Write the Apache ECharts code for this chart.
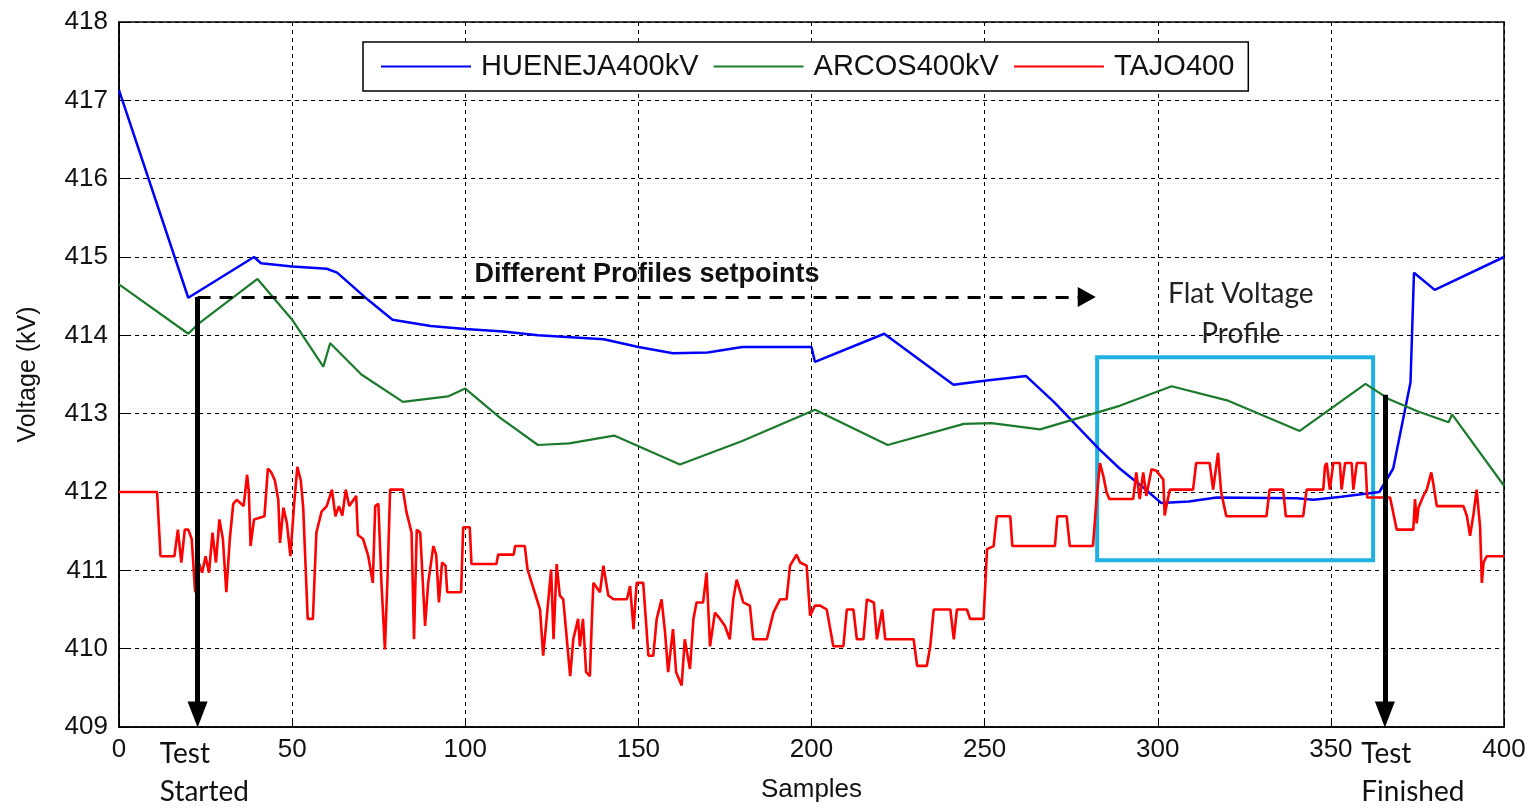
<!DOCTYPE html>
<html>
<head>
<meta charset="utf-8">
<script src="https://cdn.jsdelivr.net/npm/echarts@6/dist/echarts.min.js"></script>
<style>
  html, body { margin: 0; padding: 0; background: #fff; }
  #chart { width: 1537px; height: 808px; }
</style>
</head>
<body>
<div id="chart"></div>
<script>
// [sample, kV] pairs
var hueneja = [[0,417.13],[20,414.48],[39,415.0],[41,414.92],[50,414.88],[60,414.85],[63,414.8],[72,414.45],[79,414.2],
  [90,414.12],[100,414.08],[111,414.05],[121,414.0],[140,413.95],[150,413.85],[160,413.77],[170,413.78],[180,413.85],
  [200,413.85],[201,413.66],[221,414.02],[241,413.37],[250,413.42],[262,413.48],[270,413.15],[283,412.55],[289,412.3],
  [296,412.05],[301,411.86],[309,411.88],[317,411.93],[340,411.92],[345,411.9],[353,411.94],[364,412.0],[368,412.3],
  [373,413.4],[374,414.8],[380,414.58],[400,415.0]]

var arcos = [[0,414.65],[20,414.02],[23,414.15],[40,414.72],[50,414.2],[59,413.6],[61,413.9],[70,413.5],[82,413.15],
  [95,413.22],[100,413.32],[110,412.95],[121,412.6],[130,412.62],[143,412.72],[162,412.35],[180,412.65],[201,413.05],
  [222,412.6],[244,412.87],[252,412.88],[266,412.8],[289,413.1],[304,413.35],[320,413.17],[341,412.78],[360,413.38],
  [367,413.18],[375,413.03],[384,412.89],[385,412.99],[400,412.08]]

var tajo = [[0,412.0],[11,412.0],[12,411.18],[16,411.18],[17,411.52],[18,411.1],[19,411.52],[20,411.52],[21,411.4],
  [22,410.72],[23,411.1],[24,410.97],[25,411.18],[26,410.97],[27,411.48],[28,411.1],[29,411.65],[30,411.4],[31,410.72],
  [32,411.4],[33,411.85],[34,411.9],[36,411.82],[37,412.22],[37.5,412.0],[38,411.31],[39,411.65],[42,411.69],[43,412.3],
  [44,412.25],[45,412.15],[46,411.9],[46.5,411.35],[47.5,411.8],[48.5,411.6],[49.5,411.18],[50.5,411.8],[51.5,412.32],
  [52.5,412.15],[53.2,411.8],[54.5,410.38],[56,410.38],[57,411.48],[58.5,411.75],[60,411.82],[61.5,412.03],[62.5,411.69],
  [63.5,411.82],[64.5,411.7],[65.5,412.03],[66.5,411.82],[68.5,411.95],[69,411.45],[70.5,411.4],[72,411.18],[73.3,410.84],
  [74,411.82],[74.9,411.85],[75.8,410.84],[76.8,409.99],[77.6,410.97],[78.3,412.03],[82,412.03],[83,411.75],[84.5,411.48],
  [85.2,410.12],[86,411.52],[87,411.48],[88.4,410.29],[89.3,410.84],[90.8,411.31],[91.6,411.2],[92.4,410.59],[93.3,411.1],
  [94.3,411.06],[94.8,410.72],[98.8,410.72],[99.4,411.55],[101.3,411.55],[101.8,411.08],[109,411.08],[109.5,411.2],
  [114,411.2],[114.4,411.31],[117.2,411.31],[118,411.01],[121.6,410.5],[122.5,409.91],[123.5,410.38],[124.8,411.01],
  [125.5,410.12],[126.4,411.08],[127.3,410.68],[128.3,410.63],[130.3,409.65],[131.2,410.12],[132.6,410.38],[133.1,410.03],
  [134,410.38],[134.9,409.7],[136,409.65],[136.5,410.29],[137,410.84],[138.9,410.72],[139.9,411.06],[141.3,410.68],
  [142.8,410.63],[146.7,410.63],[147.6,410.8],[148.6,410.25],[149.5,410.84],[151.4,410.84],[152.9,409.91],[154.3,409.91],
  [155.3,410.38],[156.7,410.63],[157.7,410.21],[158.6,409.7],[160,410.25],[160.9,409.7],[162.5,409.53],[163.4,410.12],
  [164.9,409.74],[165.9,410.38],[166.8,410.59],[168.7,410.59],[169.7,410.97],[170.7,410.03],[172.1,410.46],[173.6,410.38],
  [175,410.29],[176.4,410.12],[177.4,410.63],[178.4,410.88],[180.3,410.59],[182.2,410.55],[183.2,410.12],[187.1,410.12],
  [189,410.46],[190.9,410.63],[192.8,410.63],[193.8,411.06],[195.7,411.2],[196.7,411.1],[198.6,411.06],[199.6,410.42],
  [201,410.55],[202.5,410.55],[204.4,410.5],[206.3,410.03],[209.2,410.03],[210.2,410.5],[212.1,410.5],[213.1,410.12],
  [215,410.12],[216,410.63],[218,410.59],[218.9,410.12],[220.4,410.5],[221.3,410.12],[229.5,410.12],[230.5,409.78],
  [233.3,409.78],[234.3,410.03],[235.3,410.5],[240.1,410.5],[241.1,410.12],[242,410.5],[244.9,410.5],[245.8,410.38],
  [249.7,410.38],[250.7,411.27],[252.6,411.31],[253.5,411.69],[257.4,411.69],[258,411.31],[270.3,411.31],[271,411.69],
  [273.7,411.69],[274.6,411.31],[281.3,411.31],[282.3,411.9],[283.3,412.37],[284.3,412.2],[285.2,412.0],[286,411.91],
  [292.9,411.91],[293.8,412.25],[294.8,411.91],[295.8,412.25],[296.7,411.95],[298.2,412.29],[299.6,412.27],[301.6,412.16],
  [302,411.7],[302.5,411.82],[303.5,412.03],[310.2,412.03],[311.1,412.37],[315,412.37],[316,412.03],[317.4,412.5],
  [318.3,412.0],[319.8,411.69],[331.4,411.69],[332.3,412.03],[336.2,412.03],[337,411.69],[342,411.69],[343,412.03],
  [347.8,412.03],[348.3,412.33],[348.8,412.37],[349.7,412.03],[350.7,412.37],[352.6,412.37],[353.1,412.03],[354.1,412.37],
  [356,412.37],[356.5,412.03],[357.5,412.37],[360,412.37],[360.5,411.93],[367.1,411.93],[369,411.52],[373.8,411.52],
  [374.3,411.91],[374.8,411.6],[375.3,411.8],[376.7,411.95],[377.7,412.03],[379,412.25],[379.6,412.1],[380.6,411.82],
  [388.3,411.82],[389.3,411.69],[390.2,411.44],[391.2,411.72],[392.1,412.03],[393.1,411.55],[393.6,410.84],[394.1,411.1],
  [395,411.18],[400,411.18]]

var seriesNames = ['HUENEJA400kV', 'ARCOS400kV', 'TAJO400']
var seriesColors = ['#0000ff', '#1c7a2c', '#ff0000']
var xRange = [0, 400, 50]
var yRange = [409, 418, 1]

// annotation anchors, in data units
var testStart = 22.7
var testEnd = 365.6
var profileArrowY = 414.49
var profileArrowEnd = 281
var finishTop = 413.24
var flatBox = [[282.5, 413.72], [362.2, 411.13]]

var chart = echarts.init(document.getElementById('chart'))
var axisFont = 'Liberation Sans'
var noteFont = 'Lato'

chart.setOption({
  animation: false,
  backgroundColor: '#fff',
  grid: {
    left: 119, right: 33, top: 22, bottom: 80,
    show: true, borderColor: '#000', borderWidth: 1.5
  },
  legend: {
    top: 42,
    left: 363,
    padding: [10, 14, 10, 17],
    itemGap: 14,
    itemWidth: 90,
    itemHeight: 14,
    borderColor: '#000',
    borderWidth: 1.5,
    backgroundColor: '#fff',
    itemStyle: { opacity: 0 },
    textStyle: { fontFamily: axisFont, fontSize: 29, color: '#111', padding: [0, 0, 0, 5] },
    data: seriesNames
  },
  xAxis: {
    type: 'value',
    min: xRange[0], max: xRange[1], interval: xRange[2],
    name: 'Samples',
    nameLocation: 'middle',
    nameGap: 50,
    nameTextStyle: { fontFamily: axisFont, fontSize: 26, color: '#111' },
    axisLine: { show: true, lineStyle: { color: '#000', width: 1.5 } },
    axisTick: { inside: true, length: 8, lineStyle: { color: '#000' } },
    axisLabel: { margin: 10, fontFamily: axisFont, fontSize: 26, color: '#111' },
    splitLine: { show: true, lineStyle: { color: '#000', width: 1, type: [4, 4] } }
  },
  yAxis: {
    type: 'value',
    min: yRange[0], max: yRange[1], interval: yRange[2],
    name: 'Voltage (kV)',
    nameLocation: 'middle',
    nameGap: 78,
    nameTextStyle: { fontFamily: axisFont, fontSize: 25, color: '#111' },
    axisLine: { show: true, lineStyle: { color: '#000', width: 1.5 } },
    axisTick: { inside: true, length: 8, lineStyle: { color: '#000' } },
    axisLabel: { margin: 11, fontFamily: axisFont, fontSize: 26, color: '#111' },
    splitLine: { show: true, lineStyle: { color: '#000', width: 1, type: [4, 4] } }
  },
  series: [
    {
      name: seriesNames[0], type: 'line', data: hueneja, symbol: 'none',
      lineStyle: { color: seriesColors[0], width: 2.5 }, itemStyle: { color: seriesColors[0] }
    },
    {
      name: seriesNames[1], type: 'line', data: arcos, symbol: 'none',
      lineStyle: { color: seriesColors[1], width: 2.2 }, itemStyle: { color: seriesColors[1] }
    },
    {
      name: seriesNames[2], type: 'line', data: tajo, symbol: 'none',
      lineStyle: { color: seriesColors[2], width: 2.6 }, itemStyle: { color: seriesColors[2] }
    },
    {
      name: 'notes', type: 'line', data: [], z: 5,
      markArea: {
        silent: true,
        itemStyle: { color: 'rgba(0,0,0,0)', borderColor: '#1eb1e2', borderWidth: 4 },
        data: [[{ coord: flatBox[0] }, { coord: flatBox[1] }]]
      },
      markLine: {
        silent: true,
        symbol: ['none', 'triangle'],
        label: { show: false },
        data: [
          [{ coord: [testStart, profileArrowY], symbolSize: [20, 18], lineStyle: { color: '#000', width: 3, type: [13, 9] } },
           { coord: [profileArrowEnd - 1.5, profileArrowY], symbolSize: [20, 18] }],
          [{ coord: [testStart, profileArrowY], symbolSize: [20, 26], lineStyle: { color: '#000', width: 5, type: 'solid' } },
           { coord: [testStart, yRange[0] + 0.16], symbolSize: [20, 26] }],
          [{ coord: [testEnd, finishTop], symbolSize: [20, 26], lineStyle: { color: '#000', width: 5, type: 'solid' } },
           { coord: [testEnd, yRange[0] + 0.16], symbolSize: [20, 26] }]
        ]
      }
    }
  ]
})

// text notes placed through the chart's own scales
function at(s, v) { return chart.convertToPixel({ xAxisIndex: 0, yAxisIndex: 0 }, [s, v]) }
var pSet = at(152.5, 414.77)
var pFlat = at(324, 414.27)
var pStart = at(11.8, 408.41)
var pEnd = at(358.8, 408.41)

chart.setOption({
  graphic: [
    {
      type: 'text', x: pSet[0], y: pSet[1], z: 10,
      style: { text: 'Different Profiles setpoints', font: 'bold 27px "Liberation Sans"', fill: '#111',
        align: 'center', verticalAlign: 'middle' }
    },
    {
      type: 'text', x: pFlat[0], y: pFlat[1], z: 10,
      style: { text: 'Flat Voltage\nProfile', font: '28px ' + noteFont, fill: '#222', lineHeight: 40,
        align: 'center', verticalAlign: 'middle' }
    },
    {
      type: 'text', x: pStart[0], y: pStart[1], z: 10,
      style: { text: 'Test\nStarted', font: '28px ' + noteFont, fill: '#111', lineHeight: 38,
        align: 'left', verticalAlign: 'middle' }
    },
    {
      type: 'text', x: pEnd[0], y: pEnd[1], z: 10,
      style: { text: 'Test\nFinished', font: '28px ' + noteFont, fill: '#111', lineHeight: 38,
        align: 'left', verticalAlign: 'middle' }
    }
  ]
})
</script>
</body>
</html>
